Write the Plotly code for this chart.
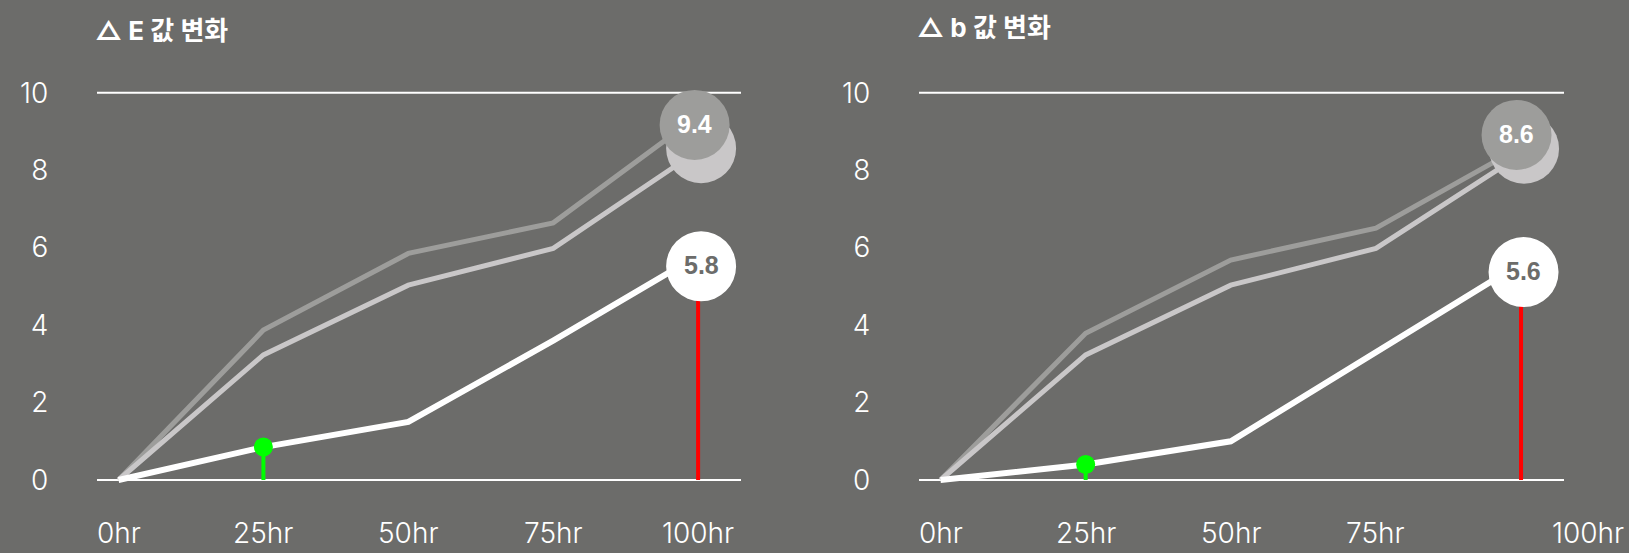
import plotly.graph_objects as go

# ---------------- data ----------------
hours = [0, 25, 50, 75, 100]
hour_labels = ["0hr", "25hr", "50hr", "75hr", "100hr"]
y_ticks = [0, 2, 4, 6, 8, 10]

titles = ["△ E 값 변화", "△ b 값 변화"]

e_dark = [0, 3.87, 5.85, 6.64, 9.4]
e_light = [0, 3.23, 5.03, 5.98, 8.5]
e_white = [0, 0.85, 1.5, 3.6, 5.8]

b_dark = [0, 3.79, 5.68, 6.5, 8.6]
b_light = [0, 3.23, 5.03, 5.98, 8.4]
b_white = [0, 0.4, 1.0, 3.3, 5.6]

# ---------------- style ----------------
BG = "#6c6c6a"
DARK = "#9d9d9b"
LIGHT = "#c9c7c8"
WHITE = "#ffffff"
RED = "#ff0000"
GREEN = "#00ff00"
FONT = "Inter, Noto Sans CJK KR, sans-serif"
LABEL_FONT = "Liberation Sans, Arial, sans-serif"

W, H = 1629, 553
XR = [-3.71, 107.4]
YR = [-0.5, 10.5]
Y_DOM = [0.09698, 0.86740]
X_DOMS = [[0.05955, 0.45488], [0.56415, 0.96010]]
R = 35  # bubble radius px

# pixel offsets of end bubbles (dx, dy; dy positive = up) per chart: dark, light, white
bubble_offsets = [
    [(-3.5, -9), (3, 2.5), (3, -11)],
    [(-4.5, 12), (3, 6), (2.5, -9)],
]
label_x_shift = [[0, 0, 0, 0, 0], [0, 0, 0, 0, 67]]
title_y = [0.944, 0.951]

fig = go.Figure()
shapes = []
annotations = []

charts = [(e_dark, e_light, e_white), (b_dark, b_light, b_white)]

for i, (dark, light, white) in enumerate(charts):
    xa = "x" if i == 0 else "x2"
    ya = "y" if i == 0 else "y2"
    xref_dom = xa + " domain"

    # reference lines at 0 and 10
    for yv in (y_ticks[0], y_ticks[-1]):
        shapes.append(dict(type="line", xref=xref_dom, yref=ya, x0=0, x1=1,
                           y0=yv, y1=yv, line=dict(color=WHITE, width=2),
                           layer="below"))

    fig.add_trace(go.Scatter(x=hours, y=dark, mode="lines", xaxis=xa, yaxis=ya,
                             line=dict(color=DARK, width=5), hoverinfo="skip"))
    fig.add_trace(go.Scatter(x=hours, y=light, mode="lines", xaxis=xa, yaxis=ya,
                             line=dict(color=LIGHT, width=5), hoverinfo="skip"))
    fig.add_trace(go.Scatter(x=hours, y=white, mode="lines", xaxis=xa, yaxis=ya,
                             line=dict(color=WHITE, width=6), hoverinfo="skip"))
    # red stem at last point
    fig.add_trace(go.Scatter(x=[hours[-1], hours[-1]], y=[0, white[-1]], mode="lines",
                             xaxis=xa, yaxis=ya, line=dict(color=RED, width=4),
                             hoverinfo="skip"))
    # green stem + dot at 25hr
    fig.add_trace(go.Scatter(x=[hours[1], hours[1]], y=[0, white[1]], mode="lines",
                             xaxis=xa, yaxis=ya, line=dict(color=GREEN, width=4),
                             hoverinfo="skip"))
    fig.add_trace(go.Scatter(x=[hours[1]], y=[white[1]], mode="markers",
                             xaxis=xa, yaxis=ya, cliponaxis=False,
                             marker=dict(color=GREEN, size=19), hoverinfo="skip"))

    # end bubbles
    ends = [(dark[-1], DARK, WHITE, True), (light[-1], LIGHT, None, False),
            (white[-1], WHITE, BG, True)]
    order = [1, 0, 2]
    for k in order:
        val, col, tcol, show = ends[k]
        dx, dy = bubble_offsets[i][k]
        shapes.append(dict(type="circle", xref=xa, yref=ya,
                           xsizemode="pixel", ysizemode="pixel",
                           xanchor=hours[-1], yanchor=val,
                           x0=dx - R, x1=dx + R, y0=dy - R, y1=dy + R,
                           fillcolor=col, line=dict(width=0), layer="above"))
    for k in order:
        val, col, tcol, show = ends[k]
        if not show:
            continue
        dx, dy = bubble_offsets[i][k]
        annotations.append(dict(x=hours[-1], y=val, xref=xa, yref=ya,
                                text=f"<b>{val:.1f}</b>", showarrow=False,
                                xshift=dx, yshift=dy + 1,
                                font=dict(family=LABEL_FONT, size=25, color=tcol)))

    # x labels
    for j, (h, lab) in enumerate(zip(hours, hour_labels)):
        annotations.append(dict(x=h, y=(H - 533) / H, xref=xa, yref="paper",
                                text=lab, showarrow=False, xanchor="center",
                                yanchor="middle", xshift=label_x_shift[i][j],
                                font=dict(family=FONT, size=28, color=WHITE,
                                          weight=300)))
    # title
    annotations.append(dict(x=X_DOMS[i][0], y=title_y[i], xref="paper", yref="paper",
                            text=f"<b>{titles[i]}</b>", showarrow=False,
                            xanchor="left", yanchor="middle", xshift=-4,
                            font=dict(family=FONT, size=26, color=WHITE)))

axis_common_x = dict(range=XR, showgrid=False, zeroline=False, showline=False,
                     showticklabels=False, ticks="", fixedrange=True)
axis_common_y = dict(range=YR, domain=Y_DOM, tickvals=y_ticks, showgrid=False,
                     zeroline=False, showline=False, ticks="outside", ticklen=42,
                     tickcolor="rgba(0,0,0,0)",
                     tickfont=dict(family=FONT, size=28, color=WHITE, weight=300),
                     fixedrange=True)

fig.update_layout(
    width=W, height=H,
    margin=dict(l=0, r=0, t=0, b=0),
    paper_bgcolor=BG, plot_bgcolor=BG,
    showlegend=False,
    xaxis=dict(domain=X_DOMS[0], anchor="y", **axis_common_x),
    yaxis=dict(anchor="x", **axis_common_y),
    xaxis2=dict(domain=X_DOMS[1], anchor="y2", **axis_common_x),
    yaxis2=dict(anchor="x2", **axis_common_y),
    shapes=shapes,
    annotations=annotations,
)

fig.write_html("out.html")
